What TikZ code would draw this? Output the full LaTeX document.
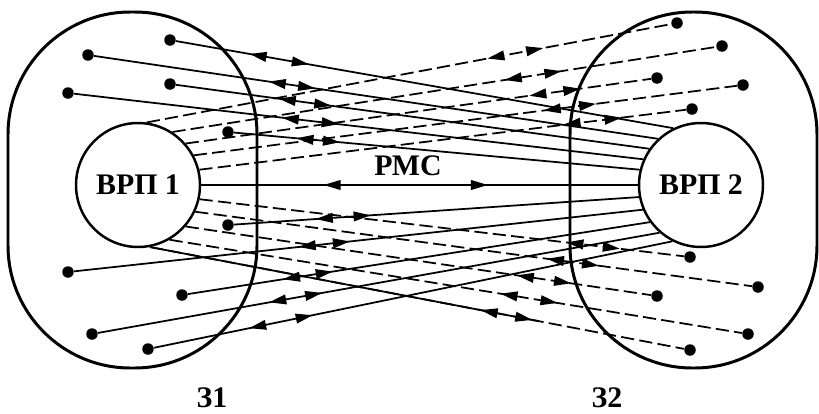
\documentclass[tikz,border=0pt]{standalone}
\usepackage{fontspec}
\setmainfont{Liberation Serif}
\usetikzlibrary{decorations.markings,calc}

\tikzset{
	lbl/.style={font=\bfseries\fontsize{17}{19}\selectfont},
	zone/.style={line width=1.7pt,rounded corners=2.45cm},
	vrp/.style={circle,draw,line width=1.4pt,minimum size=2.48cm,inner sep=0pt,lbl},
	dot/.style={circle,fill,inner sep=0pt,minimum size=2.3mm},
	thinline/.style={line width=1pt},
	link/.style 2 args={thinline,
		decoration={markings,
			mark=at position #1 with {\fill (-4.8pt,0) -- (4.8pt,2.9pt) -- (4.8pt,-2.9pt) -- cycle;},
			mark=at position #2 with {\fill (4.8pt,0) -- (-4.8pt,2.9pt) -- (-4.8pt,-2.9pt) -- cycle;}},
		postaction={decorate}},
	dashlink/.style 2 args={link={#1}{#2},dash pattern=on 7.5pt off 3pt},
}

\begin{document}
\begin{tikzpicture}[x=0.02cm,y=-0.02cm]
	\useasboundingbox (0,0) rectangle (819,413);
	% zones
	\draw[zone] (8,12) rectangle (257,368);
	\draw[zone] (570,12) rectangle (817,368);
	\node[lbl,inner sep=0pt] (z1) at (212,398) {З1};
	\node[lbl,inner sep=0pt] (z2) at (607,398) {З2};
	% switching nodes
	\node[vrp] (vrp1) at (138,185) {ВРП 1};
	\node[vrp] (vrp2) at (701,185) {ВРП 2};
	\node[lbl] (pmc) at (408,166) {РМС};
	\draw[link={0.3}{0.637}] (vrp1.east) -- (vrp2.west);
	% subscribers of zone 1
	\foreach \n/\x/\y in {1/170/40, 2/88/55, 3/170/84, 4/68/93, 5/228/132,
		6/228/225, 7/68/272, 8/182/295, 9/92/334, 10/148/349}
		\node[dot] (l\n) at (\x,\y) {};
	% subscribers of zone 2
	\foreach \n/\x/\y in {1/677/23, 2/722/46, 3/657/78, 4/743/85, 5/692/109,
		6/690/257, 7/758/287, 8/657/296, 9/748/334, 10/690/350}
		\node[dot] (r\n) at (\x,\y) {};
	% zone 1 to ВРП 2
	\foreach \n/\a/\p/\q in {1/116/0.165/0.25, 2/133/0.325/0.377, 3/145/0.235/0.31,
		4/156/0.38/0.45, 5/166/0.175/0.24, 6/191/0.223/0.316, 7/203/0.41/0.47,
		8/216/0.224/0.295, 9/229/0.32/0.384, 10/243/0.2/0.29}
		\draw[link={\p}{\q}] (l\n) -- (vrp2.\a);
	% ВРП 1 to zone 2
	\foreach \n/\a/\p/\q in {1/82/0.666/0.74, 2/57/0.627/0.70, 3/41/0.757/0.83,
		4/28/0.66/0.725, 5/14/0.766/0.85, 6/347/0.775/0.85, 7/335/0.647/0.71,
		8/319/0.73/0.81, 9/300/0.593/0.663, 10/281/0.635/0.70}
		\draw[dashlink={\p}{\q}] (vrp1.\a) -- (r\n);
	\coordinate (jbreak) at ($(vrp1.281)!0.72!(r10)$);
	\draw[thinline] (vrp1.281) -- (jbreak);
\end{tikzpicture}
\end{document}
